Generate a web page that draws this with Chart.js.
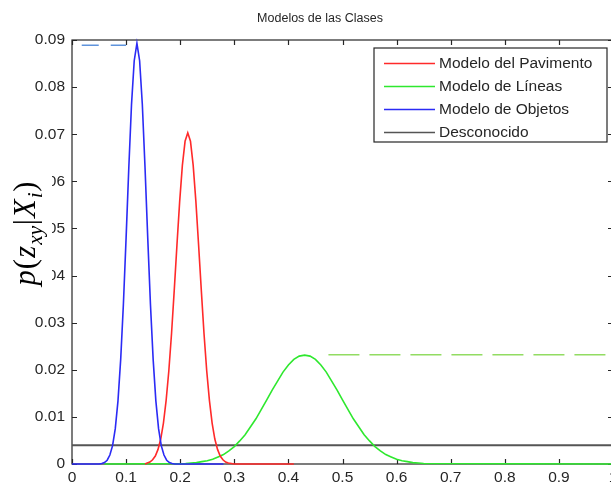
<!DOCTYPE html>
<html>
<head>
<meta charset="utf-8">
<script src="https://cdn.jsdelivr.net/npm/chart.js@4.4.0/dist/chart.umd.min.js"></script>
<style>
  html, body { margin: 0; padding: 0; background: #fff; overflow: hidden; }
  #wrap { width: 625px; height: 484px; }
</style>
</head>
<body>
<div id="wrap"><canvas id="c" width="625" height="484"></canvas></div>
<script>
// ---- Data ----
const chartTitle = 'Modelos de las Clases';
const legendLabels = ['Modelo del Pavimento', 'Modelo de Líneas', 'Modelo de Objetos', 'Desconocido'];

const pavX = [0.135,0.139,0.144,0.149,0.154,0.159,0.164,0.169,0.174,0.179,0.184,0.189,0.194,0.199,0.204,0.209,0.214,0.219,0.224,0.229,0.234,0.239,0.244,0.249,0.254,0.259,0.264,0.269,0.274,0.279,0.284,0.289,0.30,0.41];
const pavY = [0,0.0002,0.0004,0.0009,0.0017,0.0031,0.0053,0.0087,0.0135,0.0198,0.0277,0.0369,0.0465,0.0557,0.0634,0.0685,0.0703,0.0685,0.0634,0.0557,0.0465,0.0369,0.0277,0.0198,0.0135,0.0087,0.0053,0.0031,0.0017,0.0009,0.0004,0.0002,0,0];

const linX = [0.06,0.21,0.22,0.23,0.24,0.25,0.26,0.27,0.28,0.29,0.30,0.31,0.32,0.33,0.34,0.35,0.36,0.37,0.38,0.39,0.40,0.41,0.42,0.43,0.44,0.45,0.46,0.47,0.48,0.49,0.50,0.51,0.52,0.53,0.54,0.55,0.56,0.57,0.58,0.59,0.60,0.61,0.62,0.63,0.64,0.65,1.0];
const linY = [0,0.0001,0.0002,0.0003,0.0005,0.0007,0.0010,0.0015,0.0020,0.0028,0.0037,0.0049,0.0062,0.0079,0.0096,0.0116,0.0136,0.0157,0.0176,0.0195,0.0210,0.0222,0.0229,0.0231,0.0229,0.0222,0.0210,0.0195,0.0176,0.0157,0.0136,0.0116,0.0096,0.0079,0.0062,0.0049,0.0037,0.0028,0.0020,0.0015,0.0010,0.0007,0.0005,0.0003,0.0002,0.0001,0];

const objX = [0,0.05,0.055,0.06,0.065,0.07,0.075,0.08,0.085,0.09,0.095,0.10,0.105,0.11,0.115,0.12,0.125,0.13,0.135,0.14,0.145,0.15,0.155,0.16,0.165,0.17,0.175,0.18,0.185,0.19,0.28];
const objY = [0,0,0.0001,0.0003,0.0008,0.0019,0.0039,0.0075,0.0134,0.0222,0.0339,0.0480,0.0629,0.0763,0.0856,0.0893,0.0856,0.0763,0.0629,0.0480,0.0339,0.0222,0.0134,0.0075,0.0039,0.0019,0.0008,0.0003,0.0001,0,0];

const desX = [0, 1];
const desY = [0.004, 0.004];

// dashed peak markers
const objPeakX = [0.018, 0.10];
const objPeakY = [0.0889, 0.0889];
const linPeakX = [0.474, 1.0];
const linPeakY = [0.0232, 0.0232];

const xTickValues = [0,0.1,0.2,0.3,0.4,0.5,0.6,0.7,0.8,0.9,1];
const xTickLabels = ['0','0.1','0.2','0.3','0.4','0.5','0.6','0.7','0.8','0.9','1'];
const yTickValues = [0,0.01,0.02,0.03,0.04,0.05,0.06,0.07,0.08,0.09];
const yTickLabels = ['0','0.01','0.02','0.03','0.04','0.05','0.06','0.07','0.08','0.09'];

// ---- helpers ----
const pts = (xs, ys) => xs.map((x, i) => ({ x: x, y: ys[i] }));
const FONT = '"Liberation Sans", Arial, Helvetica, sans-serif';
const TEXT = '#262626';

const framePlugin = {
  id: 'frame',
  beforeDraw(chart) {
    const ctx = chart.ctx;
    ctx.save();
    ctx.fillStyle = '#fff';
    ctx.fillRect(0, 0, chart.width, chart.height);
    ctx.restore();
  },
  beforeDatasetsDraw(chart) {
    const { ctx, chartArea: a, scales } = chart;
    const x = scales.x, y = scales.y;
    ctx.save();
    ctx.strokeStyle = TEXT;
    ctx.lineWidth = 1.2;
    ctx.strokeRect(a.left, a.top, a.right - a.left, a.bottom - a.top);
    ctx.beginPath();
    xTickValues.forEach(v => {
      const px = Math.round(x.getPixelForValue(v)) + 0.5;
      ctx.moveTo(px, a.bottom); ctx.lineTo(px, a.bottom - 5);
      ctx.moveTo(px, a.top); ctx.lineTo(px, a.top + 5);
    });
    yTickValues.forEach(v => {
      const py = Math.round(y.getPixelForValue(v)) + 0.5;
      ctx.moveTo(a.left, py); ctx.lineTo(a.left + 5, py);
      ctx.moveTo(a.right, py); ctx.lineTo(a.right - 5, py);
    });
    ctx.stroke();
    ctx.restore();
  },
  afterDraw(chart) {
    const { ctx } = chart;
    // title
    ctx.save();
    ctx.font = '12.5px ' + FONT;
    ctx.fillStyle = TEXT;
    ctx.textAlign = 'center';
    ctx.textBaseline = 'middle';
    ctx.fillText(chartTitle, 320, 19);
    ctx.restore();

    // legend box (inside plot, top-right)
    const bx = 374, by = 48, bw = 233, bh = 94;
    ctx.save();
    ctx.fillStyle = '#fff';
    ctx.fillRect(bx, by, bw, bh);
    ctx.strokeStyle = TEXT;
    ctx.lineWidth = 1.2;
    ctx.strokeRect(bx, by, bw, bh);
    ctx.font = '15.5px ' + FONT;
    ctx.textBaseline = 'middle';
    ctx.textAlign = 'left';
    for (let i = 0; i < 4; i++) {
      const ds = chart.data.datasets[i];
      const ry = by + 15.5 + i * 23;
      ctx.strokeStyle = ds.borderColor;
      ctx.lineWidth = 1.5;
      ctx.beginPath();
      ctx.moveTo(bx + 10, ry); ctx.lineTo(bx + 61, ry);
      ctx.stroke();
      ctx.fillStyle = TEXT;
      ctx.fillText(ds.label, bx + 65, ry + 0.5);
    }
    ctx.restore();

    // y axis label p(z_xy | X_i) with white background
    ctx.save();
    ctx.fillStyle = '#fff';
    ctx.fillRect(4, 166, 48, 128);
    const parts = [
      { t: 'p', it: true }, { t: '(', it: false }, { t: 'z', it: true },
      { t: 'xy', it: true, sub: true }, { t: '|', it: false }, { t: 'X', it: true },
      { t: 'i', it: true, sub: true }, { t: ')', it: false }
    ];
    const serif = '"Liberation Serif", "Times New Roman", serif';
    const fontFor = (p, s) => (p.it ? 'italic ' : '') + (p.sub ? s * 0.7 : s) + 'px ' + serif;
    const gap = p => (p.sub ? 0.5 : 1.2);
    const measure = s => parts.reduce((w, p) => { ctx.font = fontFor(p, s); return w + ctx.measureText(p.t).width + gap(p); }, 0);
    let size = 28;
    size = size * 106 / measure(size);
    const total = measure(size);
    ctx.translate(35, 233);
    ctx.rotate(-Math.PI / 2);
    ctx.fillStyle = '#000';
    ctx.textBaseline = 'alphabetic';
    let cx = -total / 2;
    parts.forEach(p => {
      ctx.font = fontFor(p, size);
      ctx.fillText(p.t, cx, p.sub ? size * 0.22 : 0);
      cx += ctx.measureText(p.t).width + gap(p);
    });
    ctx.restore();
  }
};

const lineDs = (label, data, color, width, order, dash) => ({
  label: label, data: data, borderColor: color, backgroundColor: color,
  borderWidth: width, pointRadius: 0, pointHoverRadius: 0, tension: 0,
  fill: false, order: order, clip: false, borderDash: dash || []
});

new Chart(document.getElementById('c'), {
  type: 'line',
  data: {
    datasets: [
      lineDs(legendLabels[0], pts(pavX, pavY), '#ff2a2a', 1.6, 1),
      lineDs(legendLabels[1], pts(linX, linY), '#2ee82e', 1.6, 2),
      lineDs(legendLabels[2], pts(objX, objY), '#2b2bf5', 1.6, 0),
      lineDs(legendLabels[3], pts(desX, desY), '#555555', 2, 3),
      lineDs('', pts(objPeakX, objPeakY), '#5f93dc', 1.4, 4, [17, 12]),
      lineDs('', pts(linPeakX, linPeakY), '#92dc62', 1.4, 4, [31, 10])
    ]
  },
  options: {
    responsive: false,
    animation: false,
    devicePixelRatio: 1,
    events: [],
    layout: { padding: { left: 0, right: 12, top: 40, bottom: 0 } },
    plugins: {
      legend: { display: false },
      tooltip: { enabled: false },
      title: { display: false }
    },
    scales: {
      x: {
        type: 'linear', min: 0, max: 1,
        grid: { display: false, drawTicks: false },
        border: { display: false },
        afterFit: s => { s.height = 20; },
        afterBuildTicks: s => { s.ticks = xTickValues.map(v => ({ value: v })); },
        ticks: {
          autoSkip: false, maxRotation: 0, padding: 4, color: TEXT,
          font: { family: FONT, size: 15.5 },
          callback: (v) => xTickLabels[xTickValues.indexOf(v)]
        }
      },
      y: {
        type: 'linear', min: 0, max: 0.09,
        grid: { display: false, drawTicks: false },
        border: { display: false },
        afterFit: s => { s.width = 72; },
        afterBuildTicks: s => { s.ticks = yTickValues.map(v => ({ value: v })); },
        ticks: {
          autoSkip: false, padding: 7, color: TEXT,
          font: { family: FONT, size: 15.5 },
          callback: (v) => yTickLabels[yTickValues.indexOf(v)]
        }
      }
    }
  },
  plugins: [framePlugin]
});
</script>
</body>
</html>
